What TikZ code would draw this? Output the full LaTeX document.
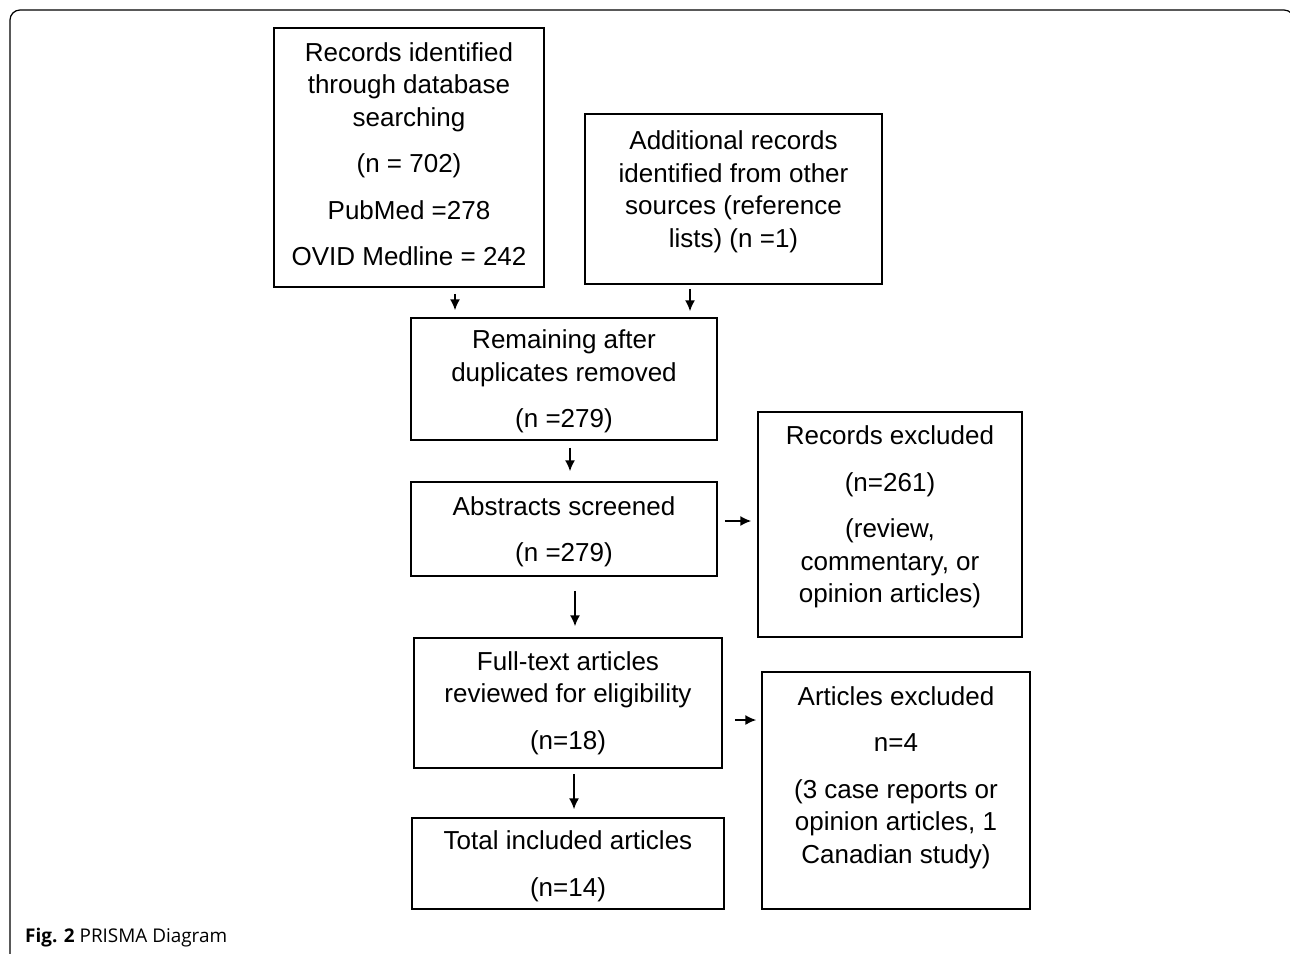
\documentclass[tikz,border=0pt]{standalone}
\usepackage{fontspec}
\setmainfont{Liberation Sans}
\newfontfamily\capfont{Open Sans}
\usetikzlibrary{positioning,arrows.meta}

\begin{document}
\begin{tikzpicture}[
    x=1pt, y=-1pt,
    box/.style={draw, line width=1.5pt, align=center, inner sep=0pt,
                font=\fontsize{26}{32.5}\selectfont},
    arr/.style={->, line width=1.5pt},
    >={Latex[length=11pt,width=10pt]}
  ]
  \useasboundingbox (0,0) rectangle (1290,953);
  % card frame
  \draw[line width=1.2pt, rounded corners=10pt] (10,970) -- (10,10) -- (1294,10) -- (1294,970);

  \node[box, minimum width=270pt, minimum height=259pt, text depth=7pt] (rec) at (409,157.5) {
    Records identified\\ through database\\ searching\\[14pt] (n = 702)\\[14pt]
    PubMed =278\\[14pt] OVID Medline = 242
  };
  \node[box, minimum width=297pt, minimum height=170pt, text depth=20pt] (add) at (733.5,199) {
    Additional records\\ identified from other\\ sources (reference\\ lists) (n =1)
  };
  \node[box, minimum width=306pt, minimum height=122pt, text depth=-2pt] (rem) at (564,379) {
    Remaining after\\ duplicates removed\\[14pt] (n =279)
  };
  \node[box, minimum width=306pt, minimum height=94pt, text depth=0pt] (abs) at (564,529) {
    Abstracts screened\\[14pt] (n =279)
  };
  \node[box, minimum width=264pt, minimum height=225pt, text depth=20pt] (exc1) at (890,524.5) {
    Records excluded\\[14pt] (n=261)\\[14pt] (review,\\ commentary, or\\ opinion articles)
  };
  \node[box, minimum width=308pt, minimum height=130pt] (full) at (568,703) {
    Full-text articles\\ reviewed for eligibility\\[14pt] (n=18)
  };
  \node[box, minimum width=268pt, minimum height=237pt, text depth=31pt] (exc2) at (896,790.5) {
    Articles excluded\\[14pt] n=4\\[14pt] (3 case reports or\\ opinion articles, 1\\ Canadian study)
  };
  \node[box, minimum width=312pt, minimum height=91pt, text depth=-2pt] (tot) at (568,863.5) {
    Total included articles\\[14pt] (n=14)
  };

  \draw[arr, shorten <=6pt, shorten >=7pt] ([xshift=46pt]rec.south) -- ([xshift=46pt]rec.south |- rem.north);
  \draw[arr, shorten <=4pt, shorten >=6pt] ([xshift=-43.5pt]add.south) -- ([xshift=-43.5pt]add.south |- rem.north);
  \draw[arr, shorten <=7pt, shorten >=10pt] ([xshift=6pt]rem.south) -- ([xshift=6pt]rem.south |- abs.north);
  \draw[arr, shorten <=14pt, shorten >=11pt] ([xshift=11pt]abs.south) -- ([xshift=11pt]abs.south |- full.north);
  \draw[arr, shorten <=7pt, shorten >=6pt] ([yshift=8pt]abs.east) -- ([yshift=8pt]abs.east -| exc1.west);
  \draw[arr, shorten <=12pt, shorten >=5pt] ([yshift=-17pt]full.east) -- ([yshift=-17pt]full.east -| exc2.west);
  \draw[arr, shorten <=5pt, shorten >=8pt] ([xshift=6pt]full.south) -- ([xshift=6pt]full.south |- tot.north);

  \node[anchor=base west, inner sep=0pt, font=\capfont\fontsize{18.9}{22}\selectfont] (cap) at (25,942)
    {\textbf{Fig. 2} PRISMA Diagram};
\end{tikzpicture}
\end{document}
